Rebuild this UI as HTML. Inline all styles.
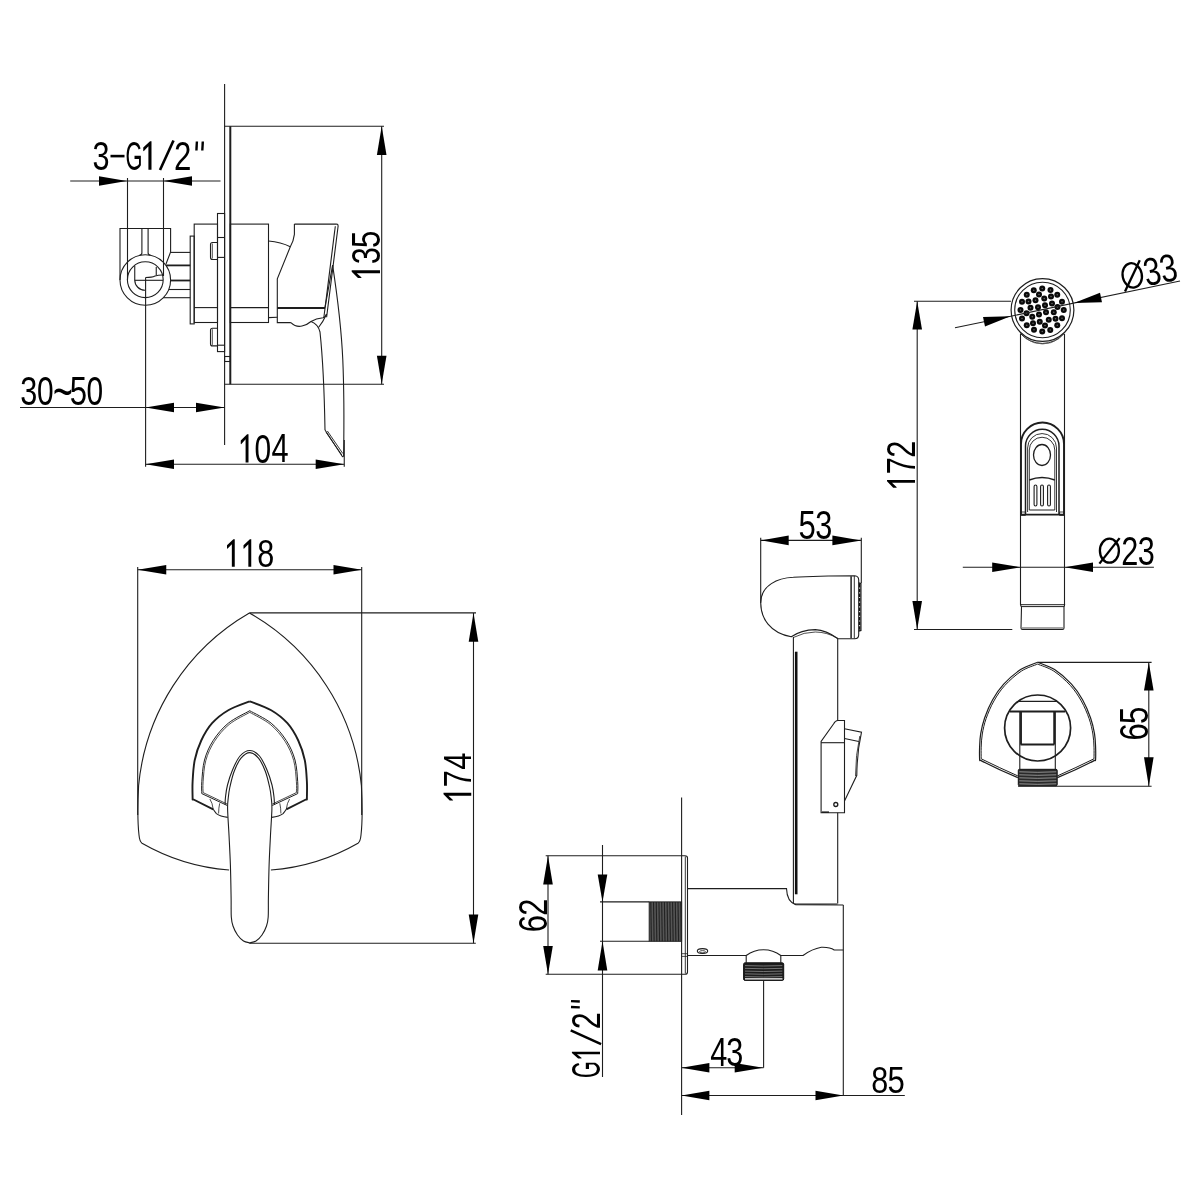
<!DOCTYPE html>
<html><head><meta charset="utf-8"><title>drawing</title>
<style>html,body{margin:0;padding:0;background:#fff;width:1200px;height:1200px;overflow:hidden}svg{display:block;font-family:"Liberation Sans",sans-serif;will-change:transform}</style>
</head><body>
<svg width="1200" height="1200" viewBox="0 0 1200 1200" stroke-linecap="butt">
<rect x="0" y="0" width="1200" height="1200" fill="#fff"/>
<line x1="224.60" y1="84.00" x2="224.60" y2="445.00" stroke="#1e1e1e" stroke-width="1.1"/>
<line x1="230.30" y1="126.30" x2="230.30" y2="384.20" stroke="#1e1e1e" stroke-width="2.0"/>
<line x1="224.60" y1="126.30" x2="384.00" y2="126.30" stroke="#1e1e1e" stroke-width="1.1"/>
<line x1="224.60" y1="384.20" x2="384.00" y2="384.20" stroke="#1e1e1e" stroke-width="1.1"/>
<rect x="224.60" y="356.50" width="5.70" height="5.00" rx="0" stroke="#1e1e1e" stroke-width="1.1" fill="none"/>
<line x1="381.70" y1="126.30" x2="381.70" y2="384.20" stroke="#1e1e1e" stroke-width="1.1"/>
<path d="M381.70,126.30 L386.50,155.00 L376.90,155.00 Z" fill="#000"/>
<path d="M381.70,384.20 L376.90,355.80 L386.50,355.80 Z" fill="#000"/>
<g transform="rotate(-90) translate(-278.00,351.70) scale(0.6920,1.0107) translate(-4.400,28.000)"><path d="M13.6,-28 L15.6,-28 L15.6,0 L11.4,0 L11.4,-23.0 L5.0,-18.2 L4.4,-18.7 L4.4,-21.8 Z" fill="#000"/></g><g transform="rotate(-90) translate(-263.00,351.70) scale(0.7665,1.0157) translate(-1.792,27.918)"><text x="0" y="0" font-family="Liberation Sans" font-size="40" fill="#000">3</text></g><g transform="rotate(-90) translate(-246.50,351.70) scale(0.7776,1.0124) translate(-1.843,28.000)"><text x="0" y="0" font-family="Liberation Sans" font-size="40" fill="#000">5</text></g>
<rect x="217.50" y="213.50" width="7.10" height="138.10" rx="0" stroke="#1e1e1e" stroke-width="1.1" fill="none"/>
<line x1="217.50" y1="237.50" x2="224.60" y2="237.50" stroke="#1e1e1e" stroke-width="1.1"/>
<line x1="217.50" y1="257.40" x2="224.60" y2="257.40" stroke="#1e1e1e" stroke-width="1.1"/>
<line x1="217.50" y1="345.20" x2="224.60" y2="345.20" stroke="#1e1e1e" stroke-width="1.1"/>
<path d="M217.5,242.5 L212.5,242.5 Q210.5,242.5 210.5,244.5 L210.5,257.5 Q210.5,259.5 212.5,259.5 L217.5,259.5" stroke="#1e1e1e" stroke-width="1.1" fill="none" />
<line x1="212.30" y1="243.50" x2="212.30" y2="258.50" stroke="#1e1e1e" stroke-width="0.8"/>
<path d="M217.5,328.2 L212.5,328.2 Q210.5,328.2 210.5,330.2 L210.5,343.9 Q210.5,345.9 212.5,345.9 L217.5,345.9" stroke="#1e1e1e" stroke-width="1.1" fill="none" />
<line x1="212.30" y1="329.20" x2="212.30" y2="344.90" stroke="#1e1e1e" stroke-width="0.8"/>
<rect x="194.20" y="224.10" width="23.30" height="98.40" rx="0" stroke="#1e1e1e" stroke-width="1.1" fill="none"/>
<line x1="194.20" y1="307.60" x2="217.50" y2="307.60" stroke="#1e1e1e" stroke-width="1.1"/>
<rect x="230.30" y="224.10" width="38.20" height="98.40" rx="0" stroke="#1e1e1e" stroke-width="1.1" fill="none"/>
<line x1="230.30" y1="307.60" x2="268.50" y2="307.60" stroke="#1e1e1e" stroke-width="1.1"/>
<rect x="190.20" y="236.10" width="4.00" height="87.80" rx="0" stroke="#1e1e1e" stroke-width="1.1" fill="none"/>
<line x1="170.60" y1="252.40" x2="190.20" y2="252.40" stroke="#1e1e1e" stroke-width="1.1"/>
<line x1="165.96" y1="265.40" x2="190.20" y2="265.40" stroke="#1e1e1e" stroke-width="1.8"/>
<line x1="170.60" y1="280.50" x2="190.20" y2="280.50" stroke="#1e1e1e" stroke-width="1.8"/>
<line x1="168.75" y1="289.50" x2="190.20" y2="289.50" stroke="#1e1e1e" stroke-width="1.1"/>
<line x1="163.38" y1="297.70" x2="190.20" y2="297.70" stroke="#1e1e1e" stroke-width="1.1"/>
<path d="M120,280 L120,228.5 L170.6,228.5 L170.6,252 L166,264" stroke="#1e1e1e" stroke-width="1.1" fill="none" />
<path d="M141.9,228.5 L141.9,253 Q141.9,254.8 139.5,255.2 M148.1,228.5 L148.1,253 Q148.1,254.8 150.5,255.2" stroke="#1e1e1e" stroke-width="1.1" fill="none" />
<circle cx="145.30" cy="280.00" r="25.30" stroke="#1e1e1e" stroke-width="1.1" fill="none"/>
<circle cx="145.30" cy="279.70" r="17.90" stroke="#1e1e1e" stroke-width="1.1" fill="none"/>
<path d="M134.75,265.5 L134.75,280 A10.25,10.25 0 0 0 145,290.25" stroke="#1e1e1e" stroke-width="1.1" fill="none" />
<line x1="134.75" y1="280.30" x2="163.00" y2="280.30" stroke="#1e1e1e" stroke-width="1.1"/>
<line x1="156.25" y1="267.00" x2="156.25" y2="275.00" stroke="#1e1e1e" stroke-width="1.1"/>
<path d="M145.6,277.5 Q152,277.5 155,276 Q158,275 162.5,275" stroke="#1e1e1e" stroke-width="1.1" fill="none" />
<line x1="70.20" y1="181.00" x2="220.50" y2="181.00" stroke="#1e1e1e" stroke-width="1.1"/>
<path d="M126.75,181.00 L99.00,185.80 L99.00,176.20 Z" fill="#000"/>
<path d="M163.50,181.00 L192.00,176.20 L192.00,185.80 Z" fill="#000"/>
<line x1="127.50" y1="178.00" x2="127.50" y2="280.00" stroke="#1e1e1e" stroke-width="1.1"/>
<line x1="163.50" y1="178.00" x2="163.50" y2="276.00" stroke="#1e1e1e" stroke-width="1.1"/>
<g transform="translate(93.75,141.25) scale(0.7665,1.0229) translate(-1.792,27.918)"><text x="0" y="0" font-family="Liberation Sans" font-size="40" fill="#000">3</text></g>
<rect x="110.5" y="154.8" width="14" height="2.6" fill="#000"/>
<g transform="translate(126.75,141.25) scale(0.5468,1.0210) translate(-2.063,27.969)"><text x="0" y="0" font-family="Liberation Sans" font-size="40" fill="#000">G</text></g>
<g transform="translate(143.25,141.25) scale(0.7366,1.0179) translate(-4.400,28.000)"><path d="M13.6,-28 L15.6,-28 L15.6,0 L11.4,0 L11.4,-23.0 L5.0,-18.2 L4.4,-18.7 L4.4,-21.8 Z" fill="#000"/></g>
<line x1="160.00" y1="170.00" x2="173.50" y2="140.50" stroke="#000" stroke-width="2.6"/>
<g transform="translate(175.50,141.25) scale(0.7823,1.0199) translate(-2.020,27.945)"><text x="0" y="0" font-family="Liberation Sans" font-size="40" fill="#000">2</text></g>
<line x1="196.90" y1="141.50" x2="196.40" y2="150.50" stroke="#000" stroke-width="2.4"/>
<line x1="202.80" y1="141.50" x2="202.30" y2="150.50" stroke="#000" stroke-width="2.4"/>
<path d="M294.4,224.1 L336.9,224.1" stroke="#1e1e1e" stroke-width="1.1" fill="none" />
<path d="M294.4,224.1 L294.4,234.4 Q293.5,241.5 290.3,246.8 L277.3,278.8 L277.3,322.6 L290.9,322.6" stroke="#1e1e1e" stroke-width="1.1" fill="none" />
<path d="M268.5,241 Q281,242 290.3,246.8" stroke="#1e1e1e" stroke-width="1.1" fill="none" />
<line x1="268.50" y1="317.60" x2="277.30" y2="317.20" stroke="#1e1e1e" stroke-width="1.1"/>
<line x1="277.30" y1="308.00" x2="325.00" y2="308.00" stroke="#1e1e1e" stroke-width="1.8"/>
<path d="M336.9,224.1 Q338.5,224.6 338,227 L326.6,317.2" stroke="#1e1e1e" stroke-width="1.1" fill="none" />
<line x1="335.30" y1="226.20" x2="323.90" y2="317.20" stroke="#1e1e1e" stroke-width="1.1"/>
<line x1="332.60" y1="265.20" x2="325.00" y2="307.50" stroke="#1e1e1e" stroke-width="1.1"/>
<path d="M290.9,322.6 Q296,327.5 302,326 Q307,325 311,321.5 Q316,318.5 323,317.8 Q326,317 326.6,314" stroke="#1e1e1e" stroke-width="1.1" fill="none" />
<path d="M311,321.5 Q318,324 320,332 Q324,370 325,430" stroke="#1e1e1e" stroke-width="1.1" fill="none" />
<path d="M326.6,314 Q323,322 318.5,327.5" stroke="#1e1e1e" stroke-width="1.1" fill="none" />
<path d="M332.6,265.2 Q341,320 342.8,360 Q344.5,400 343.6,456.5" stroke="#1e1e1e" stroke-width="1.1" fill="none" />
<path d="M325,430 L342.5,456.7 L343.6,456.5" stroke="#1e1e1e" stroke-width="1.1" fill="none" />
<line x1="326.20" y1="432.50" x2="341.80" y2="455.00" stroke="#1e1e1e" stroke-width="0.9"/>
<line x1="327.40" y1="431.00" x2="342.80" y2="453.50" stroke="#1e1e1e" stroke-width="0.9"/>
<line x1="20.00" y1="407.50" x2="224.60" y2="407.50" stroke="#1e1e1e" stroke-width="1.1"/>
<path d="M145.50,407.50 L174.00,402.70 L174.00,412.30 Z" fill="#000"/>
<path d="M224.60,407.50 L196.00,412.30 L196.00,402.70 Z" fill="#000"/>
<g transform="translate(21.60,377.20) scale(0.7665,1.0121) translate(-1.792,27.918)"><text x="0" y="0" font-family="Liberation Sans" font-size="40" fill="#000">3</text></g><g transform="translate(38.10,377.20) scale(0.7474,1.0110) translate(-1.576,27.953)"><text x="0" y="0" font-family="Liberation Sans" font-size="40" fill="#000">0</text></g><g transform="translate(54.60,388.20) scale(0.8453,1.2994) translate(-1.796,15.925)"><text x="0" y="0" font-family="Liberation Sans" font-size="40" fill="#000">~</text></g><g transform="translate(71.10,377.20) scale(0.7776,1.0088) translate(-1.843,28.000)"><text x="0" y="0" font-family="Liberation Sans" font-size="40" fill="#000">5</text></g><g transform="translate(87.60,377.20) scale(0.7474,1.0110) translate(-1.576,27.953)"><text x="0" y="0" font-family="Liberation Sans" font-size="40" fill="#000">0</text></g>
<line x1="145.60" y1="277.50" x2="145.60" y2="466.70" stroke="#1e1e1e" stroke-width="1.1"/>
<line x1="145.50" y1="464.30" x2="344.25" y2="464.30" stroke="#1e1e1e" stroke-width="1.1"/>
<path d="M145.50,464.30 L174.00,459.50 L174.00,469.10 Z" fill="#000"/>
<path d="M344.25,464.30 L315.70,469.10 L315.70,459.50 Z" fill="#000"/>
<line x1="344.25" y1="440.00" x2="344.25" y2="466.70" stroke="#1e1e1e" stroke-width="1.1"/>
<g transform="translate(240.75,434.25) scale(0.6920,1.0089) translate(-4.400,28.000)"><path d="M13.6,-28 L15.6,-28 L15.6,0 L11.4,0 L11.4,-23.0 L5.0,-18.2 L4.4,-18.7 L4.4,-21.8 Z" fill="#000"/></g><g transform="translate(255.75,434.25) scale(0.7474,1.0128) translate(-1.576,27.953)"><text x="0" y="0" font-family="Liberation Sans" font-size="40" fill="#000">0</text></g><g transform="translate(272.25,434.25) scale(0.7690,1.0089) translate(-0.922,28.000)"><text x="0" y="0" font-family="Liberation Sans" font-size="40" fill="#000">4</text></g>
<line x1="137.70" y1="569.80" x2="361.70" y2="569.80" stroke="#1e1e1e" stroke-width="1.1"/>
<path d="M137.70,569.80 L166.25,565.00 L166.25,574.60 Z" fill="#000"/>
<path d="M361.70,569.80 L333.50,574.60 L333.50,565.00 Z" fill="#000"/>
<line x1="137.70" y1="567.00" x2="137.70" y2="815.00" stroke="#1e1e1e" stroke-width="1.1"/>
<line x1="361.70" y1="567.00" x2="361.70" y2="815.00" stroke="#1e1e1e" stroke-width="1.1"/>
<g transform="translate(227.00,539.25) scale(0.6920,0.9821) translate(-4.400,28.000)"><path d="M13.6,-28 L15.6,-28 L15.6,0 L11.4,0 L11.4,-23.0 L5.0,-18.2 L4.4,-18.7 L4.4,-21.8 Z" fill="#000"/></g><g transform="translate(243.50,539.25) scale(0.6920,0.9821) translate(-4.400,28.000)"><path d="M13.6,-28 L15.6,-28 L15.6,0 L11.4,0 L11.4,-23.0 L5.0,-18.2 L4.4,-18.7 L4.4,-21.8 Z" fill="#000"/></g><g transform="translate(258.50,539.25) scale(0.7637,0.9867) translate(-1.792,27.925)"><text x="0" y="0" font-family="Liberation Sans" font-size="40" fill="#000">8</text></g>
<path d="M249.4,613.0 A223.6,223.6 0 0 0 138.59,785.7 C137.6,805 137.5,822 139.0,835 Q139.6,841.5 142.0,843.2 A206,206 0 0 0 229.1,870" stroke="#1e1e1e" stroke-width="1.1" fill="none" />
<path d="M249.4,613.0 A223.6,223.6 0 0 1 361.41,785.7 C362.40,805 362.50,822 361.00,835 Q360.40,841.5 358.00,843.2 A206,206 0 0 1 270.90,870" stroke="#1e1e1e" stroke-width="1.1" fill="none" />
<line x1="249.40" y1="612.90" x2="476.00" y2="612.90" stroke="#1e1e1e" stroke-width="1.1"/>
<line x1="473.50" y1="612.90" x2="473.50" y2="943.30" stroke="#1e1e1e" stroke-width="1.1"/>
<path d="M473.50,612.90 L478.30,641.70 L468.70,641.70 Z" fill="#000"/>
<path d="M473.50,943.30 L468.70,914.50 L478.30,914.50 Z" fill="#000"/>
<line x1="249.40" y1="943.30" x2="475.80" y2="943.30" stroke="#1e1e1e" stroke-width="1.1"/>
<g transform="rotate(-90) translate(-800.60,443.50) scale(0.6920,0.9911) translate(-4.400,28.000)"><path d="M13.6,-28 L15.6,-28 L15.6,0 L11.4,0 L11.4,-23.0 L5.0,-18.2 L4.4,-18.7 L4.4,-21.8 Z" fill="#000"/></g><g transform="rotate(-90) translate(-785.60,443.50) scale(0.7702,0.9911) translate(-2.059,28.000)"><text x="0" y="0" font-family="Liberation Sans" font-size="40" fill="#000">7</text></g><g transform="rotate(-90) translate(-769.10,443.50) scale(0.7690,0.9911) translate(-0.922,28.000)"><text x="0" y="0" font-family="Liberation Sans" font-size="40" fill="#000">4</text></g>
<path d="M249.80,701.30 C246.22,702.78 234.58,706.55 228.30,710.20 C222.02,713.85 216.61,718.15 212.10,723.20 C207.59,728.25 204.14,734.37 201.25,740.50 C198.36,746.63 196.19,753.13 194.75,760.00 C193.31,766.87 192.96,775.38 192.60,781.70 C192.24,788.02 192.60,795.02 192.60,797.90 C192.60,800.78 192.60,798.82 192.60,799.00 L213.2,809.3" stroke="#1e1e1e" stroke-width="1.9" fill="none" />
<path d="M213.2,809.3 Q215,812 216.4,813.6 Q220,816.5 227.8,817.4" stroke="#1e1e1e" stroke-width="1.1" fill="none" />
<path d="M249.70,701.30 C253.28,702.78 264.92,706.55 271.20,710.20 C277.48,713.85 282.89,718.15 287.40,723.20 C291.91,728.25 295.36,734.37 298.25,740.50 C301.14,746.63 303.31,753.13 304.75,760.00 C306.19,766.87 306.54,775.38 306.90,781.70 C307.26,788.02 306.90,795.02 306.90,797.90 C306.90,800.78 306.90,798.82 306.90,799.00 L286.30,809.3" stroke="#1e1e1e" stroke-width="1.9" fill="none" />
<path d="M286.30,809.3 Q284.50,812 283.10,813.6 Q279.50,816.5 271.70,817.4" stroke="#1e1e1e" stroke-width="1.1" fill="none" />
<path d="M249.80,710.70 C246.22,712.78 234.40,718.23 228.30,723.20 C222.20,728.17 217.17,734.37 213.20,740.50 C209.23,746.63 206.40,753.13 204.50,760.00 C202.60,766.87 202.25,776.10 201.80,781.70 C201.35,787.30 201.80,791.62 201.80,793.60 L227.25,805.5" stroke="#1e1e1e" stroke-width="1.0" fill="none" />
<path d="M249.70,710.70 C253.28,712.78 265.10,718.23 271.20,723.20 C277.30,728.17 282.33,734.37 286.30,740.50 C290.27,746.63 293.10,753.13 295.00,760.00 C296.90,766.87 297.25,776.10 297.70,781.70 C298.15,787.30 297.70,791.62 297.70,793.60 L272.25,805.5" stroke="#1e1e1e" stroke-width="1.0" fill="none" />
<path d="M249.80,712.30 C246.37,714.32 235.10,719.55 229.20,724.40 C223.30,729.25 218.30,735.38 214.40,741.40 C210.50,747.42 207.68,753.78 205.80,760.50 C203.92,767.22 203.55,776.35 203.10,781.70 C202.65,787.05 203.10,790.78 203.10,792.60 L227.25,804.1" stroke="#1e1e1e" stroke-width="0.8" fill="none" />
<path d="M249.70,712.30 C253.13,714.32 264.40,719.55 270.30,724.40 C276.20,729.25 281.20,735.38 285.10,741.40 C289.00,747.42 291.82,753.78 293.70,760.50 C295.58,767.22 295.95,776.35 296.40,781.70 C296.85,787.05 296.40,790.78 296.40,792.60 L272.25,804.1" stroke="#1e1e1e" stroke-width="0.8" fill="none" />
<path d="M209.90,799 Q212.50,803 213.20,809.3" stroke="#1e1e1e" stroke-width="0.8" fill="none" />
<path d="M219.70,803.3 Q218.60,808 218.60,813.5" stroke="#1e1e1e" stroke-width="0.8" fill="none" />
<path d="M289.60,799 Q287.00,803 286.30,809.3" stroke="#1e1e1e" stroke-width="0.8" fill="none" />
<path d="M279.80,803.3 Q280.90,808 280.90,813.5" stroke="#1e1e1e" stroke-width="0.8" fill="none" />
<path d="M249.90,942.90 C248.83,942.58 245.57,942.32 243.50,941.00 C241.43,939.68 239.25,937.50 237.50,935.00 C235.75,932.50 234.03,929.00 233.00,926.00 C231.97,923.00 231.62,921.75 231.30,917.00 C230.98,912.25 231.25,906.17 231.10,897.50 C230.95,888.83 230.75,875.42 230.40,865.00 C230.05,854.58 229.47,844.33 229.00,835.00 C228.53,825.67 227.72,815.25 227.60,809.00 C227.48,802.75 227.92,801.17 228.30,797.50 C228.68,793.83 228.92,791.38 229.90,787.00 C230.88,782.62 232.35,776.00 234.20,771.20 C236.05,766.40 238.38,761.30 241.00,758.20 C243.62,755.10 246.98,752.60 249.90,752.60 C252.82,752.60 255.93,755.10 258.50,758.20 C261.07,761.30 263.45,766.40 265.30,771.20 C267.15,776.00 268.62,782.62 269.60,787.00 C270.58,791.38 270.82,793.83 271.20,797.50 C271.58,801.17 272.02,802.75 271.90,809.00 C271.78,815.25 270.97,825.67 270.50,835.00 C270.03,844.33 269.45,854.58 269.10,865.00 C268.75,875.42 268.55,888.83 268.40,897.50 C268.25,906.17 268.52,912.25 268.20,917.00 C267.88,921.75 267.53,923.00 266.50,926.00 C265.47,929.00 263.75,932.50 262.00,935.00 C260.25,937.50 258.07,939.68 256.00,941.00 C253.93,942.32 250.67,942.58 249.60,942.90 Z" fill="#fff" stroke="none"/>
<path d="M225.10,804.50 C225.17,803.25 225.10,800.25 225.50,797.00 C225.90,793.75 226.33,789.50 227.50,785.00 C228.67,780.50 230.42,774.83 232.50,770.00 C234.58,765.17 237.10,759.25 240.00,756.00 C242.90,752.75 246.65,750.50 249.90,750.50 C253.15,750.50 256.65,752.75 259.50,756.00 C262.35,759.25 264.92,765.17 267.00,770.00 C269.08,774.83 270.83,780.50 272.00,785.00 C273.17,789.50 273.60,793.75 274.00,797.00 C274.40,800.25 274.33,803.25 274.40,804.50" stroke="#1e1e1e" stroke-width="1.1" fill="none" />
<path d="M249.90,942.90 C248.83,942.58 245.57,942.32 243.50,941.00 C241.43,939.68 239.25,937.50 237.50,935.00 C235.75,932.50 234.03,929.00 233.00,926.00 C231.97,923.00 231.62,921.75 231.30,917.00 C230.98,912.25 231.25,906.17 231.10,897.50 C230.95,888.83 230.75,875.42 230.40,865.00 C230.05,854.58 229.47,844.33 229.00,835.00 C228.53,825.67 227.72,815.25 227.60,809.00 C227.48,802.75 227.92,801.17 228.30,797.50 C228.68,793.83 228.92,791.38 229.90,787.00 C230.88,782.62 232.35,776.00 234.20,771.20 C236.05,766.40 238.38,761.30 241.00,758.20 C243.62,755.10 246.98,752.60 249.90,752.60 C252.82,752.60 255.93,755.10 258.50,758.20 C261.07,761.30 263.45,766.40 265.30,771.20 C267.15,776.00 268.62,782.62 269.60,787.00 C270.58,791.38 270.82,793.83 271.20,797.50 C271.58,801.17 272.02,802.75 271.90,809.00 C271.78,815.25 270.97,825.67 270.50,835.00 C270.03,844.33 269.45,854.58 269.10,865.00 C268.75,875.42 268.55,888.83 268.40,897.50 C268.25,906.17 268.52,912.25 268.20,917.00 C267.88,921.75 267.53,923.00 266.50,926.00 C265.47,929.00 263.75,932.50 262.00,935.00 C260.25,937.50 258.07,939.68 256.00,941.00 C253.93,942.32 250.67,942.58 249.60,942.90" stroke="#1e1e1e" stroke-width="1.1" fill="none" />
<line x1="914.00" y1="301.20" x2="1011.00" y2="301.20" stroke="#1e1e1e" stroke-width="1.1"/>
<line x1="914.00" y1="629.50" x2="1012.30" y2="629.50" stroke="#1e1e1e" stroke-width="1.1"/>
<line x1="917.20" y1="301.20" x2="917.20" y2="629.50" stroke="#1e1e1e" stroke-width="1.1"/>
<path d="M917.20,301.20 L922.00,329.50 L912.40,329.50 Z" fill="#000"/>
<path d="M917.20,629.50 L912.40,601.00 L922.00,601.00 Z" fill="#000"/>
<g transform="rotate(-90) translate(-487.70,887.00) scale(0.6920,1.0000) translate(-4.400,28.000)"><path d="M13.6,-28 L15.6,-28 L15.6,0 L11.4,0 L11.4,-23.0 L5.0,-18.2 L4.4,-18.7 L4.4,-21.8 Z" fill="#000"/></g><g transform="rotate(-90) translate(-472.70,887.00) scale(0.7702,1.0000) translate(-2.059,28.000)"><text x="0" y="0" font-family="Liberation Sans" font-size="40" fill="#000">7</text></g><g transform="rotate(-90) translate(-456.20,887.00) scale(0.7686,1.0020) translate(-2.020,27.945)"><text x="0" y="0" font-family="Liberation Sans" font-size="40" fill="#000">2</text></g>
<line x1="1020.50" y1="334.00" x2="1020.50" y2="604.70" stroke="#1e1e1e" stroke-width="1.1"/>
<line x1="1064.50" y1="334.00" x2="1064.50" y2="604.70" stroke="#1e1e1e" stroke-width="1.1"/>
<circle cx="1042.5" cy="310" r="31.4" fill="#fff" stroke="#1e1e1e" stroke-width="1.2"/>
<circle cx="1042.50" cy="310.00" r="27.80" stroke="#1e1e1e" stroke-width="1.1" fill="none"/>
<path d="M1020.4,333.4 A29,29 0 0 0 1064.3,333.4" stroke="#1e1e1e" stroke-width="1.0" fill="none" />
<path d="M1026,338.6 A28,28 0 0 0 1059,338.6" stroke="#555" stroke-width="0.8" fill="none" />
<circle cx="1042.25" cy="288.50" r="3.0" fill="#0a0a0a"/><circle cx="1042.25" cy="288.50" r="0.75" fill="#666"/>
<circle cx="1033.75" cy="290.25" r="3.0" fill="#0a0a0a"/><circle cx="1033.75" cy="290.25" r="0.75" fill="#666"/>
<circle cx="1050.50" cy="290.00" r="3.0" fill="#0a0a0a"/><circle cx="1050.50" cy="290.00" r="0.75" fill="#666"/>
<circle cx="1026.75" cy="294.75" r="3.0" fill="#0a0a0a"/><circle cx="1026.75" cy="294.75" r="0.75" fill="#666"/>
<circle cx="1039.00" cy="294.50" r="3.0" fill="#0a0a0a"/><circle cx="1039.00" cy="294.50" r="0.75" fill="#666"/>
<circle cx="1057.25" cy="294.75" r="3.0" fill="#0a0a0a"/><circle cx="1057.25" cy="294.75" r="0.75" fill="#666"/>
<circle cx="1051.00" cy="296.50" r="3.0" fill="#0a0a0a"/><circle cx="1051.00" cy="296.50" r="0.75" fill="#666"/>
<circle cx="1044.25" cy="298.50" r="3.0" fill="#0a0a0a"/><circle cx="1044.25" cy="298.50" r="0.75" fill="#666"/>
<circle cx="1035.50" cy="300.25" r="3.0" fill="#0a0a0a"/><circle cx="1035.50" cy="300.25" r="0.75" fill="#666"/>
<circle cx="1028.50" cy="301.50" r="3.0" fill="#0a0a0a"/><circle cx="1028.50" cy="301.50" r="0.75" fill="#666"/>
<circle cx="1022.00" cy="301.75" r="3.0" fill="#0a0a0a"/><circle cx="1022.00" cy="301.75" r="0.75" fill="#666"/>
<circle cx="1062.00" cy="301.75" r="3.0" fill="#0a0a0a"/><circle cx="1062.00" cy="301.75" r="0.75" fill="#666"/>
<circle cx="1052.00" cy="303.50" r="3.0" fill="#0a0a0a"/><circle cx="1052.00" cy="303.50" r="0.75" fill="#666"/>
<circle cx="1045.00" cy="305.25" r="3.0" fill="#0a0a0a"/><circle cx="1045.00" cy="305.25" r="0.75" fill="#666"/>
<circle cx="1038.00" cy="307.25" r="3.0" fill="#0a0a0a"/><circle cx="1038.00" cy="307.25" r="0.75" fill="#666"/>
<circle cx="1030.50" cy="307.75" r="3.0" fill="#0a0a0a"/><circle cx="1030.50" cy="307.75" r="0.75" fill="#666"/>
<circle cx="1057.50" cy="307.00" r="3.0" fill="#0a0a0a"/><circle cx="1057.50" cy="307.00" r="0.75" fill="#666"/>
<circle cx="1020.50" cy="310.00" r="3.0" fill="#0a0a0a"/><circle cx="1020.50" cy="310.00" r="0.75" fill="#666"/>
<circle cx="1063.75" cy="310.00" r="3.0" fill="#0a0a0a"/><circle cx="1063.75" cy="310.00" r="0.75" fill="#666"/>
<circle cx="1026.50" cy="313.25" r="3.0" fill="#0a0a0a"/><circle cx="1026.50" cy="313.25" r="0.75" fill="#666"/>
<circle cx="1046.00" cy="312.25" r="3.0" fill="#0a0a0a"/><circle cx="1046.00" cy="312.25" r="0.75" fill="#666"/>
<circle cx="1053.75" cy="312.25" r="3.0" fill="#0a0a0a"/><circle cx="1053.75" cy="312.25" r="0.75" fill="#666"/>
<circle cx="1039.00" cy="314.50" r="3.0" fill="#0a0a0a"/><circle cx="1039.00" cy="314.50" r="0.75" fill="#666"/>
<circle cx="1032.25" cy="316.75" r="3.0" fill="#0a0a0a"/><circle cx="1032.25" cy="316.75" r="0.75" fill="#666"/>
<circle cx="1022.00" cy="318.50" r="3.0" fill="#0a0a0a"/><circle cx="1022.00" cy="318.50" r="0.75" fill="#666"/>
<circle cx="1062.00" cy="318.25" r="3.0" fill="#0a0a0a"/><circle cx="1062.00" cy="318.25" r="0.75" fill="#666"/>
<circle cx="1048.75" cy="319.75" r="3.0" fill="#0a0a0a"/><circle cx="1048.75" cy="319.75" r="0.75" fill="#666"/>
<circle cx="1055.50" cy="318.75" r="3.0" fill="#0a0a0a"/><circle cx="1055.50" cy="318.75" r="0.75" fill="#666"/>
<circle cx="1039.75" cy="321.75" r="3.0" fill="#0a0a0a"/><circle cx="1039.75" cy="321.75" r="0.75" fill="#666"/>
<circle cx="1033.00" cy="323.25" r="3.0" fill="#0a0a0a"/><circle cx="1033.00" cy="323.25" r="0.75" fill="#666"/>
<circle cx="1026.75" cy="325.25" r="3.0" fill="#0a0a0a"/><circle cx="1026.75" cy="325.25" r="0.75" fill="#666"/>
<circle cx="1057.25" cy="325.25" r="3.0" fill="#0a0a0a"/><circle cx="1057.25" cy="325.25" r="0.75" fill="#666"/>
<circle cx="1045.00" cy="325.50" r="3.0" fill="#0a0a0a"/><circle cx="1045.00" cy="325.50" r="0.75" fill="#666"/>
<circle cx="1034.00" cy="329.75" r="3.0" fill="#0a0a0a"/><circle cx="1034.00" cy="329.75" r="0.75" fill="#666"/>
<circle cx="1042.25" cy="331.50" r="3.0" fill="#0a0a0a"/><circle cx="1042.25" cy="331.50" r="0.75" fill="#666"/>
<circle cx="1050.25" cy="330.00" r="3.0" fill="#0a0a0a"/><circle cx="1050.25" cy="330.00" r="0.75" fill="#666"/>
<line x1="955.00" y1="327.80" x2="1180.00" y2="281.00" stroke="#1e1e1e" stroke-width="1.1"/>
<path d="M1010.50,316.26 L984.98,326.47 L983.02,317.07 Z" fill="#000"/>
<path d="M1074.00,303.05 L1100.02,292.73 L1101.98,302.13 Z" fill="#000"/>
<g transform="rotate(-11.750 1121 293.27)">
<ellipse cx="1135.65" cy="278.07" rx="9.60" ry="12.30" stroke="#000" stroke-width="2.3" fill="none"/>
<line x1="1125.30" y1="292.27" x2="1146.10" y2="264.77" stroke="#000" stroke-width="2.3"/>
<g transform="translate(1148.80,264.37) scale(0.7665,0.9762) translate(-1.792,27.918)"><text x="0" y="0" font-family="Liberation Sans" font-size="40" fill="#000">3</text></g><g transform="translate(1165.30,264.37) scale(0.7665,0.9762) translate(-1.792,27.918)"><text x="0" y="0" font-family="Liberation Sans" font-size="40" fill="#000">3</text></g>
</g>
<path d="M1021,515 L1021,444 A21.5,21.5 0 0 1 1064,444 L1064,515" stroke="#1e1e1e" stroke-width="1.9" fill="none" />
<path d="M1025.5,514 L1025.5,446 A16.75,16.75 0 0 1 1059,446 L1059,514" stroke="#1e1e1e" stroke-width="1.5" fill="none" />
<path d="M1027.6,512 L1027.6,448 A14.45,14.45 0 0 1 1056.5,448 L1056.5,512" stroke="#1e1e1e" stroke-width="0.9" fill="none" />
<path d="M1029.3,510 L1029.3,450 A12.75,12.75 0 0 1 1054.8,450 L1054.8,510" stroke="#1e1e1e" stroke-width="0.9" fill="none" />
<line x1="1021.00" y1="514.60" x2="1064.00" y2="514.60" stroke="#1e1e1e" stroke-width="1.8"/>
<line x1="1029.30" y1="510.00" x2="1054.80" y2="510.00" stroke="#1e1e1e" stroke-width="1.0"/>
<ellipse cx="1042.00" cy="455.00" rx="8.50" ry="10.50" stroke="#1e1e1e" stroke-width="1.3" fill="none"/>
<path d="M1029.3,480 Q1042,475 1054.8,480" stroke="#1e1e1e" stroke-width="1.5" fill="none" />
<rect x="1034.10" y="485.00" width="2.80" height="21.00" rx="1.4" stroke="#1e1e1e" stroke-width="1.1" fill="none"/>
<rect x="1040.60" y="485.00" width="2.80" height="21.00" rx="1.4" stroke="#1e1e1e" stroke-width="1.1" fill="none"/>
<rect x="1047.60" y="485.00" width="2.80" height="21.00" rx="1.4" stroke="#1e1e1e" stroke-width="1.1" fill="none"/>
<rect x="1021.00" y="512.00" width="4.30" height="3.50" rx="0" stroke="#1e1e1e" stroke-width="0.8" fill="none"/>
<rect x="1059.70" y="512.00" width="4.30" height="3.50" rx="0" stroke="#1e1e1e" stroke-width="0.8" fill="none"/>
<line x1="1020.60" y1="604.70" x2="1064.60" y2="604.70" stroke="#1e1e1e" stroke-width="1.0"/>
<line x1="1021.00" y1="606.60" x2="1064.00" y2="606.60" stroke="#1e1e1e" stroke-width="1.0"/>
<path d="M1020.6,604 Q1020.6,606 1021.5,607 L1021,628 Q1021,629.5 1022.5,629.5 L1062.5,629.5 Q1064,629.5 1064,628 L1064,607 Q1064.6,606 1064.6,604" stroke="#1e1e1e" stroke-width="1.1" fill="none" />
<line x1="1022.00" y1="628.00" x2="1063.00" y2="628.00" stroke="#1e1e1e" stroke-width="0.8"/>
<line x1="962.80" y1="567.30" x2="1153.90" y2="567.30" stroke="#1e1e1e" stroke-width="1.1"/>
<path d="M1020.60,567.30 L992.20,572.10 L992.20,562.50 Z" fill="#000"/>
<path d="M1064.60,567.30 L1093.00,562.50 L1093.00,572.10 Z" fill="#000"/>
<ellipse cx="1109.40" cy="550.70" rx="9.50" ry="12.00" stroke="#000" stroke-width="2.3" fill="none"/>
<line x1="1099.40" y1="563.60" x2="1119.60" y2="538.10" stroke="#000" stroke-width="2.3"/>
<g transform="translate(1122.70,537.00) scale(0.7686,1.0020) translate(-2.020,27.945)"><text x="0" y="0" font-family="Liberation Sans" font-size="40" fill="#000">2</text></g><g transform="translate(1139.20,537.00) scale(0.7665,1.0049) translate(-1.792,27.918)"><text x="0" y="0" font-family="Liberation Sans" font-size="40" fill="#000">3</text></g>
<path d="M1037.60,662.30 C1034.77,663.52 1026.25,665.95 1020.60,669.60 C1014.95,673.25 1008.38,679.13 1003.70,684.20 C999.02,689.27 995.68,694.37 992.50,700.00 C989.32,705.63 986.57,712.38 984.60,718.00 C982.63,723.62 981.53,728.83 980.70,733.70 C979.87,738.57 979.78,742.88 979.60,747.20 C979.42,751.52 979.52,757.45 979.60,759.60 C979.68,761.75 980.02,760.02 980.10,760.10 Q998,769.5 1017.8,777.6" stroke="#1e1e1e" stroke-width="1.2" fill="none" />
<path d="M1037.60,662.30 C1040.43,663.52 1048.95,665.95 1054.60,669.60 C1060.25,673.25 1066.82,679.13 1071.50,684.20 C1076.18,689.27 1079.52,694.37 1082.70,700.00 C1085.88,705.63 1088.63,712.38 1090.60,718.00 C1092.57,723.62 1093.67,728.83 1094.50,733.70 C1095.33,738.57 1095.42,742.88 1095.60,747.20 C1095.78,751.52 1095.68,757.45 1095.60,759.60 C1095.52,761.75 1095.18,760.02 1095.10,760.10 Q1077.1999999999998,769.5 1057.3999999999999,777.6" stroke="#1e1e1e" stroke-width="1.2" fill="none" />
<path d="M1037.60,664.10 C1034.90,665.27 1026.85,667.55 1021.40,671.10 C1015.95,674.65 1009.48,680.42 1004.90,685.40 C1000.32,690.38 997.03,695.47 993.90,701.00 C990.77,706.53 988.03,713.10 986.10,718.60 C984.17,724.10 983.12,729.23 982.30,734.00 C981.48,738.77 981.38,743.07 981.20,747.20 C981.02,751.33 981.20,756.87 981.20,758.80 Q999,767.6 1017.8,775.9" stroke="#1e1e1e" stroke-width="1.0" fill="none" />
<path d="M1037.60,664.10 C1040.30,665.27 1048.35,667.55 1053.80,671.10 C1059.25,674.65 1065.72,680.42 1070.30,685.40 C1074.88,690.38 1078.17,695.47 1081.30,701.00 C1084.43,706.53 1087.17,713.10 1089.10,718.60 C1091.03,724.10 1092.08,729.23 1092.90,734.00 C1093.72,738.77 1093.82,743.07 1094.00,747.20 C1094.18,751.33 1094.00,756.87 1094.00,758.80 Q1076.1999999999998,767.6 1057.3999999999999,775.9" stroke="#1e1e1e" stroke-width="1.0" fill="none" />
<circle cx="1037.60" cy="728.00" r="33.00" stroke="#1e1e1e" stroke-width="1.7" fill="none"/>
<line x1="1018.10" y1="701.40" x2="1057.10" y2="701.40" stroke="#1e1e1e" stroke-width="1.1"/>
<line x1="1010.00" y1="711.60" x2="1065.00" y2="711.60" stroke="#1e1e1e" stroke-width="2.0"/>
<line x1="1019.80" y1="711.50" x2="1019.80" y2="769.30" stroke="#1e1e1e" stroke-width="1.1"/>
<line x1="1055.30" y1="711.50" x2="1055.30" y2="769.30" stroke="#1e1e1e" stroke-width="1.1"/>
<line x1="1021.00" y1="711.50" x2="1021.00" y2="744.50" stroke="#1e1e1e" stroke-width="1.9"/>
<line x1="1054.20" y1="711.50" x2="1054.20" y2="744.50" stroke="#1e1e1e" stroke-width="1.9"/>
<line x1="1020.50" y1="744.50" x2="1054.40" y2="744.50" stroke="#1e1e1e" stroke-width="2.0"/>
<rect x="1018.3" y="769.3" width="38.9" height="16.5" rx="1.2" fill="#2a2a2a" stroke="#111" stroke-width="1"/>
<path d="M1019.3,771.80 Q1037.7,772.80 1056.3,771.80" stroke="#bbb" stroke-width="0.7" fill="none" />
<path d="M1019.3,774.80 Q1037.7,775.80 1056.3,774.80" stroke="#bbb" stroke-width="0.7" fill="none" />
<path d="M1019.3,777.80 Q1037.7,778.80 1056.3,777.80" stroke="#bbb" stroke-width="0.7" fill="none" />
<path d="M1019.3,780.80 Q1037.7,781.80 1056.3,780.80" stroke="#bbb" stroke-width="0.7" fill="none" />
<path d="M1019.3,783.80 Q1037.7,784.80 1056.3,783.80" stroke="#bbb" stroke-width="0.7" fill="none" />
<line x1="1018.00" y1="786.30" x2="1151.60" y2="786.30" stroke="#1e1e1e" stroke-width="1.1"/>
<line x1="1037.60" y1="662.40" x2="1151.60" y2="662.40" stroke="#1e1e1e" stroke-width="1.1"/>
<line x1="1148.80" y1="662.40" x2="1148.80" y2="786.30" stroke="#1e1e1e" stroke-width="1.1"/>
<path d="M1148.80,662.40 L1153.60,690.40 L1144.00,690.40 Z" fill="#000"/>
<path d="M1148.80,786.30 L1144.00,757.30 L1153.60,757.30 Z" fill="#000"/>
<g transform="rotate(-90) translate(-739.00,1119.50) scale(0.7758,1.0210) translate(-2.059,27.949)"><text x="0" y="0" font-family="Liberation Sans" font-size="40" fill="#000">6</text></g><g transform="rotate(-90) translate(-722.50,1119.50) scale(0.7776,1.0196) translate(-1.843,28.000)"><text x="0" y="0" font-family="Liberation Sans" font-size="40" fill="#000">5</text></g>
<line x1="760.70" y1="540.40" x2="861.30" y2="540.40" stroke="#1e1e1e" stroke-width="1.1"/>
<path d="M760.70,540.40 L788.70,535.60 L788.70,545.20 Z" fill="#000"/>
<path d="M861.30,540.40 L832.40,545.20 L832.40,535.60 Z" fill="#000"/>
<line x1="760.70" y1="537.70" x2="760.70" y2="603.00" stroke="#1e1e1e" stroke-width="1.1"/>
<line x1="861.30" y1="537.70" x2="861.30" y2="583.00" stroke="#1e1e1e" stroke-width="1.1"/>
<g transform="translate(800.00,510.70) scale(0.7776,1.0017) translate(-1.843,28.000)"><text x="0" y="0" font-family="Liberation Sans" font-size="40" fill="#000">5</text></g><g transform="translate(816.50,510.70) scale(0.7665,1.0049) translate(-1.792,27.918)"><text x="0" y="0" font-family="Liberation Sans" font-size="40" fill="#000">3</text></g>
<path d="M760.7,602.7 C761,585 778,578 793.3,577.3 C815,575.8 835,575.7 854.7,575.7 Q858.7,576 858.7,580 L858.7,634.7 Q858.7,638.7 854.7,638.7 L838,638.7 Q826,630 815.3,629.6 Q801,630 791.3,636.7 C770,633 760.7,618 760.7,602.7" stroke="#1e1e1e" stroke-width="1.1" fill="none" />
<line x1="851.10" y1="576.20" x2="851.10" y2="638.30" stroke="#1e1e1e" stroke-width="1.5"/>
<line x1="854.30" y1="576.00" x2="854.30" y2="638.50" stroke="#1e1e1e" stroke-width="0.9"/>
<path d="M858.7,583 L860.9,583.5 L860.9,630.5 L858.7,631" stroke="#1e1e1e" stroke-width="1.3" fill="none" />
<line x1="859.6" y1="584" x2="859.6" y2="630" stroke="#111" stroke-width="1.3" stroke-dasharray="3.5,1.2"/>
<path d="M793.3,637.5 Q804,632 815.3,632 Q827,632 838,638.5" stroke="#1e1e1e" stroke-width="0.8" fill="none" />
<line x1="793.40" y1="637.00" x2="793.40" y2="903.70" stroke="#1e1e1e" stroke-width="1.1"/>
<line x1="837.70" y1="638.70" x2="837.70" y2="720.50" stroke="#1e1e1e" stroke-width="1.1"/>
<line x1="837.70" y1="812.70" x2="837.70" y2="903.50" stroke="#1e1e1e" stroke-width="1.1"/>
<line x1="796.20" y1="651.70" x2="796.20" y2="894.30" stroke="#111" stroke-width="2.6"/>
<path d="M837.7,720.5 L844.5,720.5 L844.5,812.7 L821.1,812.7 L821.1,741.5 L833.5,724 Q835.5,720.5 837.7,720.5" stroke="#1e1e1e" stroke-width="1.1" fill="none" />
<line x1="821.10" y1="742.70" x2="844.50" y2="742.70" stroke="#1e1e1e" stroke-width="1.1"/>
<path d="M844.5,728.7 L861.5,732.2 Q857,752 856.8,775.3 L844.5,801" stroke="#1e1e1e" stroke-width="1.1" fill="none" />
<line x1="844.50" y1="738.50" x2="858.80" y2="741.50" stroke="#1e1e1e" stroke-width="1.1"/>
<path d="M859.8,736 Q855.5,755 855.5,776" stroke="#1e1e1e" stroke-width="0.8" fill="none" />
<circle cx="835.80" cy="804.50" r="2.00" stroke="#1e1e1e" stroke-width="1.3" fill="none"/>
<line x1="822.00" y1="812.20" x2="829.00" y2="812.20" stroke="#1e1e1e" stroke-width="1.6"/>
<path d="M687.5,888.6 L786.5,888.6 Q787,902 795.7,904.6 L843.3,905" stroke="#1e1e1e" stroke-width="1.1" fill="none" />
<line x1="843.30" y1="905.00" x2="843.30" y2="1096.00" stroke="#1e1e1e" stroke-width="1.1"/>
<line x1="794.50" y1="904.00" x2="837.50" y2="904.00" stroke="#1e1e1e" stroke-width="1.0"/>
<path d="M687.5,955.5 L746.2,955.5 A28.7,28.7 0 0 1 780.8,955.5 L803,955.5 Q812,949 821.3,947.3 Q830,947 834.2,950 L843.3,950" stroke="#1e1e1e" stroke-width="1.1" fill="none" />
<ellipse cx="702.50" cy="951.00" rx="5.20" ry="2.40" stroke="#1e1e1e" stroke-width="1.1" fill="none"/>
<ellipse cx="702.50" cy="951.80" rx="3.00" ry="1.20" stroke="#1e1e1e" stroke-width="0.8" fill="none"/>
<path d="M681.6,855.7 L685,855.7 Q687.5,855.7 687.5,858 L687.5,972 Q687.5,974.3 685,974.3 L681.6,974.3" stroke="#1e1e1e" stroke-width="1.1" fill="none" />
<line x1="681.60" y1="953.70" x2="687.50" y2="953.70" stroke="#1e1e1e" stroke-width="0.8"/>
<line x1="681.60" y1="956.40" x2="687.50" y2="956.40" stroke="#1e1e1e" stroke-width="0.8"/>
<line x1="685.30" y1="856.50" x2="685.30" y2="973.50" stroke="#1e1e1e" stroke-width="0.9"/>
<line x1="681.60" y1="797.40" x2="681.60" y2="1115.00" stroke="#1e1e1e" stroke-width="1.1"/>
<line x1="545.70" y1="855.70" x2="681.60" y2="855.70" stroke="#1e1e1e" stroke-width="1.1"/>
<line x1="545.70" y1="974.30" x2="681.60" y2="974.30" stroke="#1e1e1e" stroke-width="1.1"/>
<line x1="548.00" y1="855.70" x2="548.00" y2="974.30" stroke="#1e1e1e" stroke-width="1.1"/>
<path d="M548.00,855.70 L552.80,884.50 L543.20,884.50 Z" fill="#000"/>
<path d="M548.00,974.30 L543.20,945.90 L552.80,945.90 Z" fill="#000"/>
<g transform="rotate(-90) translate(-930.70,518.00) scale(0.7758,1.0282) translate(-2.059,27.949)"><text x="0" y="0" font-family="Liberation Sans" font-size="40" fill="#000">6</text></g><g transform="rotate(-90) translate(-914.20,518.00) scale(0.7686,1.0270) translate(-2.020,27.945)"><text x="0" y="0" font-family="Liberation Sans" font-size="40" fill="#000">2</text></g>
<rect x="649.2" y="901.9" width="32.4" height="39.4" fill="#555" stroke="#222" stroke-width="1"/>
<line x1="650.80" y1="902.00" x2="651.40" y2="941.20" stroke="#222" stroke-width="1.1"/>
<line x1="653.52" y1="902.00" x2="654.12" y2="941.20" stroke="#222" stroke-width="1.1"/>
<line x1="656.24" y1="902.00" x2="656.84" y2="941.20" stroke="#222" stroke-width="1.1"/>
<line x1="658.96" y1="902.00" x2="659.56" y2="941.20" stroke="#222" stroke-width="1.1"/>
<line x1="661.68" y1="902.00" x2="662.28" y2="941.20" stroke="#222" stroke-width="1.1"/>
<line x1="664.40" y1="902.00" x2="665.00" y2="941.20" stroke="#222" stroke-width="1.1"/>
<line x1="667.12" y1="902.00" x2="667.72" y2="941.20" stroke="#222" stroke-width="1.1"/>
<line x1="669.84" y1="902.00" x2="670.44" y2="941.20" stroke="#222" stroke-width="1.1"/>
<line x1="672.56" y1="902.00" x2="673.16" y2="941.20" stroke="#222" stroke-width="1.1"/>
<line x1="675.28" y1="902.00" x2="675.88" y2="941.20" stroke="#222" stroke-width="1.1"/>
<line x1="678.00" y1="902.00" x2="678.60" y2="941.20" stroke="#222" stroke-width="1.1"/>
<line x1="680.72" y1="902.00" x2="681.32" y2="941.20" stroke="#222" stroke-width="1.1"/>
<line x1="600.00" y1="901.90" x2="649.20" y2="901.90" stroke="#1e1e1e" stroke-width="1.1"/>
<line x1="600.00" y1="941.30" x2="649.20" y2="941.30" stroke="#1e1e1e" stroke-width="1.1"/>
<line x1="602.50" y1="845.00" x2="602.50" y2="1077.00" stroke="#1e1e1e" stroke-width="1.1"/>
<path d="M602.50,901.90 L597.70,874.40 L607.30,874.40 Z" fill="#000"/>
<path d="M602.50,941.30 L607.30,970.60 L597.70,970.60 Z" fill="#000"/>
<line x1="746.20" y1="955.50" x2="746.20" y2="962.80" stroke="#1e1e1e" stroke-width="1.1"/>
<line x1="780.80" y1="955.50" x2="780.80" y2="962.80" stroke="#1e1e1e" stroke-width="1.1"/>
<rect x="743.6" y="962.8" width="40.1" height="17.6" rx="1.5" fill="#1c1c1c" stroke="#111" stroke-width="1"/>
<path d="M745,965.60 Q763.5,966.40 782.3,965.60" stroke="#8a8a8a" stroke-width="0.8" fill="none" />
<path d="M745,968.35 Q763.5,969.15 782.3,968.35" stroke="#8a8a8a" stroke-width="0.8" fill="none" />
<path d="M745,971.10 Q763.5,971.90 782.3,971.10" stroke="#8a8a8a" stroke-width="0.8" fill="none" />
<path d="M745,973.85 Q763.5,974.65 782.3,973.85" stroke="#8a8a8a" stroke-width="0.8" fill="none" />
<path d="M745,976.60 Q763.5,977.40 782.3,976.60" stroke="#8a8a8a" stroke-width="0.8" fill="none" />
<line x1="745.00" y1="978.90" x2="782.50" y2="978.90" stroke="#fff" stroke-width="1.1"/>
<line x1="763.60" y1="980.20" x2="763.60" y2="1067.70" stroke="#1e1e1e" stroke-width="1.1"/>
<line x1="681.50" y1="1067.70" x2="763.60" y2="1067.70" stroke="#1e1e1e" stroke-width="1.1"/>
<path d="M681.50,1067.70 L709.40,1062.90 L709.40,1072.50 Z" fill="#000"/>
<path d="M763.20,1067.70 L734.70,1072.50 L734.70,1062.90 Z" fill="#000"/>
<g transform="translate(711.00,1037.60) scale(0.7690,1.0143) translate(-0.922,28.000)"><text x="0" y="0" font-family="Liberation Sans" font-size="40" fill="#000">4</text></g><g transform="translate(727.50,1037.60) scale(0.7665,1.0193) translate(-1.792,27.918)"><text x="0" y="0" font-family="Liberation Sans" font-size="40" fill="#000">3</text></g>
<line x1="681.50" y1="1095.50" x2="904.80" y2="1095.50" stroke="#1e1e1e" stroke-width="1.1"/>
<path d="M681.50,1095.50 L709.40,1090.70 L709.40,1100.30 Z" fill="#000"/>
<path d="M843.40,1095.50 L815.50,1100.30 L815.50,1090.70 Z" fill="#000"/>
<g transform="translate(872.50,1067.70) scale(0.7637,0.9078) translate(-1.792,27.925)"><text x="0" y="0" font-family="Liberation Sans" font-size="40" fill="#000">8</text></g><g transform="translate(889.00,1067.70) scale(0.7776,0.9051) translate(-1.843,28.000)"><text x="0" y="0" font-family="Liberation Sans" font-size="40" fill="#000">5</text></g>
<g transform="rotate(-90) translate(-1077.00,571.90) scale(0.5448,1.0067) translate(-2.063,27.969)"><text x="0" y="0" font-family="Liberation Sans" font-size="40" fill="#000">G</text></g>
<g transform="rotate(-90) translate(-1058.40,571.90) scale(0.5982,1.0036) translate(-4.400,28.000)"><path d="M13.6,-28 L15.6,-28 L15.6,0 L11.4,0 L11.4,-23.0 L5.0,-18.2 L4.4,-18.7 L4.4,-21.8 Z" fill="#000"/></g>
<line x1="570.70" y1="1030.30" x2="601.10" y2="1044.20" stroke="#000" stroke-width="2.4"/>
<g transform="rotate(-90) translate(-1027.60,571.90) scale(0.7631,1.0055) translate(-2.020,27.945)"><text x="0" y="0" font-family="Liberation Sans" font-size="40" fill="#000">2</text></g>
<line x1="571.00" y1="1001.10" x2="579.80" y2="1001.50" stroke="#000" stroke-width="2.4"/>
<line x1="571.00" y1="1007.00" x2="579.80" y2="1007.40" stroke="#000" stroke-width="2.4"/>
</svg></body></html>
